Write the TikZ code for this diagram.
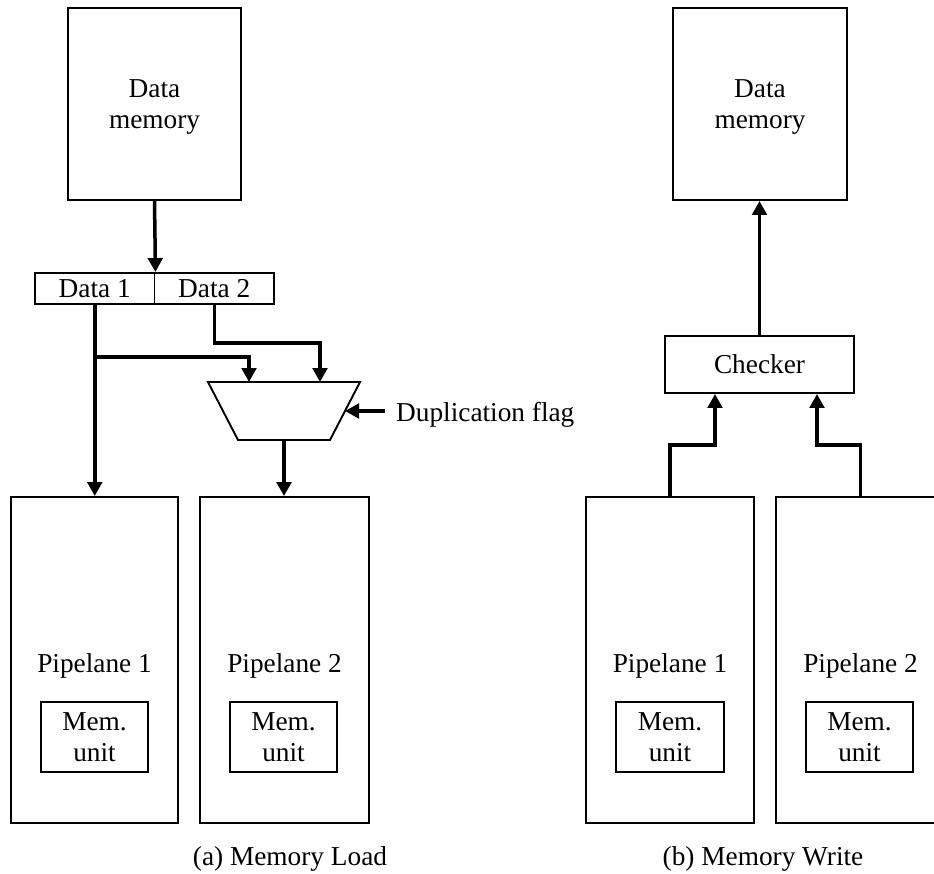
\documentclass[tikz,border=0pt]{standalone}
\usepackage{fontspec}
\setmainfont{Liberation Serif}
\usetikzlibrary{arrows.meta}

\begin{document}
\begin{tikzpicture}[x=1pt,y=-1pt,
  font=\fontsize{27.3}{31}\selectfont,
  outline/.style={line width=1.9pt},
  box/.style={draw,outline,inner sep=0pt,align=center},
  wire/.style={line width=3.5pt},
  flow/.style={wire,-{Triangle[length=14pt,width=14.5pt]}}]
\useasboundingbox (0,0) rectangle (934,873);
% (a) memory load
\node[box,minimum width=173pt,minimum height=192pt,text depth=0pt] (dmemA) at (154.5,104) {Data\\memory};
\node[box,minimum width=119.5pt,minimum height=31pt] (data1) at (94.75,288.5) {Data 1};
\node[box,minimum width=119.5pt,minimum height=31pt] (data2) at (214.25,288.5) {Data 2};
\coordinate (mtl) at (208,382);
\coordinate (mtr) at (360,382);
\coordinate (mbr) at (330,440);
\coordinate (mbl) at (238,440);
\draw[outline] (mtl) -- (mtr) -- (mbr) -- (mbl) -- cycle;
\coordinate (min1) at (249,382);
\coordinate (min2) at (320,382);
\coordinate (msel) at (345,411);
\coordinate (mout) at (284,440);
\node[anchor=base west,inner xsep=11pt,inner ysep=0pt] (flag) at (385,421) {Duplication flag};
\node[box,minimum width=167pt,minimum height=326pt] (pipe1A) at (94.5,660) {};
\node[box,minimum width=169pt,minimum height=326pt] (pipe2A) at (284.5,660) {};
\node[anchor=base] (lab1A) at (94.5,672) {Pipelane 1};
\node[anchor=base] (lab2A) at (284.5,672) {Pipelane 2};
\node[box,minimum width=107pt,minimum height=70pt] (mem1A) at (94.5,737) {Mem.\\unit};
\node[box,minimum width=107pt,minimum height=70pt] (mem2A) at (283.5,737) {Mem.\\unit};
\coordinate (split) at (94.75,357);
\coordinate (bend2) at (214.25,343);
\draw[flow] (dmemA.south) -- (data1.north east);
\draw[flow] (data1.south) -- (data1.south |- pipe1A.north);
\draw[flow] (split) -| (min1);
\draw[flow] (data2.south) -- (bend2) -| (min2);
\draw[flow] (flag.west |- msel) -- (msel);
\draw[flow] (mout) -- (mout |- pipe2A.north);
\node[anchor=base] (capA) at (290,865) {(a) Memory Load};
% (b) memory write
\node[box,minimum width=174pt,minimum height=192pt,text depth=0pt] (dmemB) at (760,104) {Data\\memory};
\node[box,minimum width=189pt,minimum height=57pt] (checker) at (759.5,364.5) {Checker};
\node[box,minimum width=168pt,minimum height=326pt] (pipe1B) at (670,660) {};
\node[box,minimum width=169pt,minimum height=326pt] (pipe2B) at (860.5,660) {};
\node[anchor=base] (lab1B) at (670,672) {Pipelane 1};
\node[anchor=base] (lab2B) at (860.5,672) {Pipelane 2};
\node[box,minimum width=108pt,minimum height=70pt] (mem1B) at (670,737) {Mem.\\unit};
\node[box,minimum width=107pt,minimum height=70pt] (mem2B) at (859.5,737) {Mem.\\unit};
\coordinate (bendL) at (670,445);
\coordinate (bendR) at (860.5,445);
\draw[flow] (checker.north) -- (checker.north |- dmemB.south);
\draw[flow] (pipe1B.north) -- (bendL) -| ([xshift=-44.5pt]checker.south);
\draw[flow] (pipe2B.north) -- (bendR) -| ([xshift=57.5pt]checker.south);
\node[anchor=base] (capB) at (763,865) {(b) Memory Write};
\end{tikzpicture}
\end{document}
